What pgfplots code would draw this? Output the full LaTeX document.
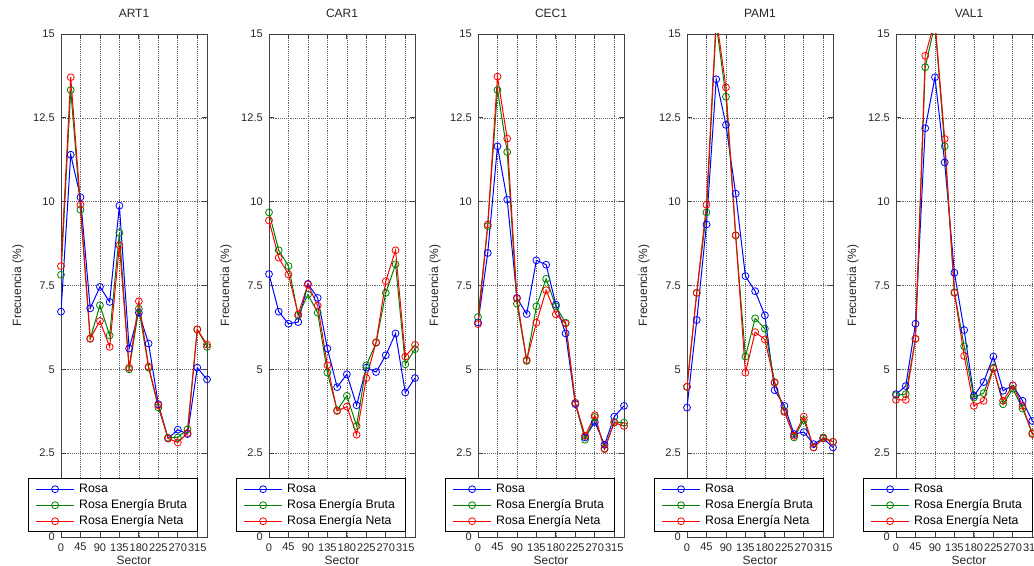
\documentclass[border=0pt]{standalone}
\usepackage{fontspec}
\setmainfont{Liberation Sans}
\usepackage{pgfplots}
\usepackage{pgfplotstable}
\pgfplotsset{compat=1.18}

\definecolor{mblue}{rgb}{0,0,1}
\definecolor{mgreen}{rgb}{0,0.5,0}
\definecolor{mred}{rgb}{1,0,0}

\pgfplotstableread{
s r b n
0 6.72 7.82 8.08
22.5 11.40 13.33 13.71
45 10.13 9.76 9.91
67.5 6.82 5.91 5.92
90 7.46 6.91 6.44
112.5 7.01 6.01 5.67
135 9.88 9.07 8.70
157.5 5.62 5.00 5.05
180 6.69 6.81 7.03
202.5 5.77 5.05 5.08
225 3.96 3.86 3.93
247.5 2.94 2.96 2.94
270 3.20 2.97 2.82
292.5 3.07 3.21 3.10
315 5.05 6.19 6.19
337.5 4.70 5.67 5.74
}\artone

\pgfplotstableread{
s r b n
0 7.84 9.68 9.44
22.5 6.72 8.55 8.33
45 6.36 8.08 7.83
67.5 6.41 6.60 6.64
90 7.55 7.23 7.53
112.5 7.13 6.69 6.90
135 5.62 4.90 5.12
157.5 4.47 3.78 3.76
180 4.85 4.21 3.89
202.5 3.93 3.31 3.05
225 5.05 5.12 4.74
247.5 4.92 5.79 5.81
270 5.42 7.28 7.63
292.5 6.07 8.13 8.55
315 4.31 5.15 5.38
337.5 4.74 5.60 5.73
}\carone

\pgfplotstableread{
s r b n
0 6.40 6.56 6.35
22.5 8.47 9.27 9.32
45 11.65 13.33 13.73
67.5 10.06 11.48 11.88
90 7.13 6.96 7.11
112.5 6.65 5.25 5.28
135 8.25 6.88 6.39
157.5 8.12 7.70 7.36
180 6.93 6.88 6.64
202.5 6.07 6.39 6.37
225 3.96 4.00 4.00
247.5 2.97 2.90 3.02
270 3.43 3.58 3.63
292.5 2.75 2.64 2.62
315 3.59 3.43 3.41
337.5 3.91 3.41 3.31
}\cecone

\pgfplotstableread{
s r b n
0 3.86 4.48 4.48
22.5 6.47 7.28 7.28
45 9.32 9.68 9.91
67.5 13.65 15.3 15.5
90 12.29 13.13 13.41
112.5 10.24 8.99 9.00
135 7.78 5.38 4.90
157.5 7.33 6.52 6.11
180 6.61 6.21 5.89
202.5 4.38 4.62 4.60
225 3.91 3.76 3.73
247.5 3.07 2.97 3.02
270 3.13 3.49 3.59
292.5 2.77 2.67 2.67
315 2.94 2.97 2.94
337.5 2.67 2.84 2.84
}\pamone

\pgfplotstableread{
s r b n
0 4.26 4.23 4.09
22.5 4.50 4.26 4.09
45 6.36 5.91 5.91
67.5 12.19 14.01 14.35
90 13.71 15.3 15.4
112.5 11.17 11.65 11.87
135 7.88 7.30 7.28
157.5 6.17 5.69 5.40
180 4.21 4.16 3.91
202.5 4.62 4.29 4.06
225 5.38 5.05 5.02
247.5 4.36 3.96 4.06
270 4.52 4.42 4.52
292.5 4.06 3.83 3.91
315 3.46 3.10 3.07
337.5 3.20 2.90 2.90
}\valone

\pgfplotsset{
  mstyle/.style={
    scale only axis, width=109.5pt, height=377.25pt,
    xmin=0, xmax=337.5, ymin=0, ymax=15,
    xtick={0,45,90,135,180,225,270,315},
    xticklabels={0,45,90,135,180,225,270,315},
    ytick={0,2.5,5,7.5,10,12.5,15},
    yticklabels={0,2.5,5,7.5,10,12.5,15},
    tick align=inside, major tick length=3.75pt,
    grid=major, grid style={densely dotted, black!60, line width=0.5pt},
    axis line style={black!75, line width=0.6pt},
    every tick/.style={black!75, line width=0.6pt},
    tick label style={font=\fontsize{8.3}{9}\selectfont, text=black!85},
    xticklabel style={inner sep=0pt, yshift=-4.5pt},
    yticklabel style={inner sep=0pt, xshift=-4.5pt},
    title style={font=\fontsize{9}{10}\selectfont, at={(axis description cs:0.5,1.0258)}, anchor=center, text=black!85},
    xlabel=Sector,
    ylabel={Frecuencia (\%)},
    xlabel style={font=\fontsize{9}{10}\selectfont, at={(axis description cs:0.5,-0.046)}, anchor=center, text=black!85},
    ylabel style={font=\fontsize{9}{10}\selectfont, at={(axis description cs:-0.2945,0.5)}, anchor=center, text=black!85},
    legend style={at={(axis description cs:0,0)}, anchor=south west,
      xshift=-24.75pt, yshift=3.75pt, draw=black, fill=white,
      font=\fontsize{9.2}{10}\selectfont, inner xsep=5.5pt, inner ysep=3.4pt,
      row sep=3pt, column sep=3.5pt,
      nodes={inner sep=0pt, text height=7pt, text depth=2pt}},
    legend cell align=left,
    legend image code/.code={\draw[mark repeat=2, mark phase=2] plot coordinates {(0cm,0cm) (0.5cm,0cm) (1cm,0cm)};},
    every axis plot/.append style={line width=0.75pt, mark=o, mark size=2.6pt, mark options={solid, line width=0.6pt}},
  }
}

\newcommand{\station}[3]{%
\begin{axis}[mstyle, at={(#1,21pt)}, anchor=south west, title={#2}]
\addplot[color=mblue] table[x=s, y=r] {#3};
\addlegendentry{\makebox[83pt][l]{Rosa}}
\addplot[color=mgreen] table[x=s, y=b] {#3};
\addlegendentry{Rosa Energía Bruta}
\addplot[color=mred] table[x=s, y=n] {#3};
\addlegendentry{Rosa Energía Neta}
\end{axis}}

\begin{document}
\begin{tikzpicture}
\station{45.75pt}{ART1}{\artone}
\station{201.75pt}{CAR1}{\carone}
\station{358.5pt}{CEC1}{\cecone}
\station{515.25pt}{PAM1}{\pamone}
\station{672pt}{VAL1}{\valone}
\pgfresetboundingbox
\useasboundingbox (0,0) rectangle (775.5pt,423.75pt);
\end{tikzpicture}
\end{document}
